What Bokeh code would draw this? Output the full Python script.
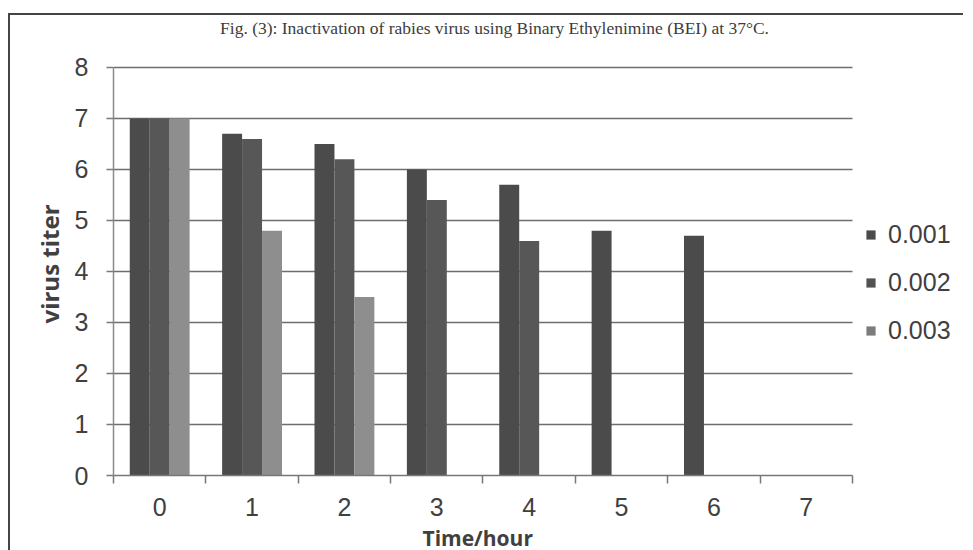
import numpy as np
from bokeh.plotting import figure
from bokeh.models import (ColumnDataSource, Range1d, FixedTicker, Legend, LegendItem, Label, Title)
from bokeh.transform import dodge
from bokeh.embed import file_html
from bokeh.resources import INLINE

# ---- data ----
hours = [0, 1, 2, 3, 4, 5, 6, 7]
hour_labels = ["0", "1", "2", "3", "4", "5", "6", "7"]
series_names = ["0.001", "0.002", "0.003"]
titer_0001 = [7.0, 6.7, 6.5, 6.0, 5.7, 4.8, 4.7, 0.0]
titer_0002 = [7.0, 6.6, 6.2, 5.4, 4.6, 0.0, 0.0, 0.0]
titer_0003 = [7.0, 4.8, 3.5, 0.0, 0.0, 0.0, 0.0, 0.0]
y_ticks = [0, 1, 2, 3, 4, 5, 6, 7, 8]

title_text = "Fig. (3): Inactivation of rabies virus using Binary Ethylenimine (BEI) at 37\u00b0C."

src = ColumnDataSource(dict(x=hours, a=titer_0001, b=titer_0002, c=titer_0003))

# frame spans from the y axis to the right edge and from the top edge down to y=0
p = figure(width=955, height=540, output_backend="svg", toolbar_location=None,
           x_range=Range1d(-0.5, 8.7233), y_range=Range1d(0, 9.0196),
           min_border_left=103, min_border_right=0, min_border_top=0, min_border_bottom=80)
p.styles = {"margin-left": "8px", "margin-top": "13px",
            "border-top": "2px solid #454545", "border-left": "2px solid #454545"}
p.outline_line_color = None
p.background_fill_color = "white"
p.border_fill_color = "white"

x_lo, x_hi = hours[0] - 0.5, hours[-1] + 0.5

# horizontal gridlines (drawn from the tick list, limited to the category span)
gl = y_ticks[1:]
p.segment(x0=[x_lo] * len(gl), x1=[x_hi] * len(gl), y0=gl, y1=gl,
          line_color="#6e6e6e", line_width=1.5)

w = 0.216
colors = ["#4b4b4b", "#575757", "#8e8e8e"]
leg_colors = ["#4a4a4a", "#525252", "#7c7c7c"]
for field, off, col in zip(["a", "b", "c"], [-w, 0, w], colors):
    p.vbar(x=dodge("x", off, range=p.x_range), top=field, width=w, source=src,
           fill_color=col, line_color=None)

# axes
xa = p.xaxis[0]
xa.bounds = (x_lo, x_hi)
xa.ticker = FixedTicker(ticks=hours, minor_ticks=[h - 0.5 for h in hours] + [x_hi])
xa.major_label_overrides = {h: l for h, l in zip(hours, hour_labels)}
xa.major_tick_line_color = None
xa.major_tick_out = 0
xa.major_tick_in = 0
xa.minor_tick_out = 8
xa.minor_tick_in = 0
xa.minor_tick_line_color = "#777777"
xa.minor_tick_line_width = 1.5
xa.axis_line_color = "#777777"
xa.axis_line_width = 1.5
xa.major_label_standoff = 14
xa.major_label_text_font = "Liberation Sans"
xa.major_label_text_font_size = "25px"
xa.major_label_text_color = "#404040"

ya = p.yaxis[0]
ya.bounds = (y_ticks[0], y_ticks[-1])
ya.ticker = FixedTicker(ticks=y_ticks)
ya.minor_tick_line_color = None
ya.major_tick_out = 7
ya.major_tick_in = 0
ya.major_tick_line_color = "#7a7a7a"
ya.major_tick_line_width = 1.5
ya.axis_line_color = "#8a8a8a"
ya.axis_line_width = 1.5
ya.major_label_standoff = 18
ya.major_label_text_font = "Liberation Sans"
ya.major_label_text_font_size = "25px"
ya.major_label_text_color = "#404040"

p.xgrid.grid_line_color = None
p.ygrid.grid_line_color = None

# axis titles (as side-panel titles so they can be positioned along the axis span)
p.add_layout(Title(text="Time/hour", align="left", offset=309, standoff=6,
                   text_font="Open Sans", text_font_style="bold", text_font_size="21px",
                   text_color="#404040"), "below")
p.add_layout(Title(text="virus titer", align="left", offset=152, standoff=11,
                   text_font="Open Sans", text_font_style="bold", text_font_size="24px",
                   text_color="#404040"), "left")

# caption
p.add_layout(Label(x=3.6245, y=8.77, text=title_text, text_align="center",
                   text_baseline="alphabetic", text_font="Liberation Serif",
                   text_font_size="17.5px", text_color="#3c3c3c"))

# legend with square swatches
items = []
for name, col in zip(series_names, leg_colors):
    r = p.scatter(x=np.array([np.nan]), y=np.array([np.nan]), marker="square", size=9,
                  fill_color=col, line_color=None)
    items.append(LegendItem(label=name, renderers=[r]))
leg = Legend(items=items, location=(746, 130), orientation="vertical",
             glyph_width=23, glyph_height=29, label_height=29, spacing=19,
             label_standoff=6, padding=0, margin=0,
             label_text_font="Liberation Sans", label_text_font_size="25px",
             label_text_color="#404040", border_line_color=None,
             background_fill_alpha=0)
p.add_layout(leg)

open("out.html", "w").write(file_html(p, INLINE))
